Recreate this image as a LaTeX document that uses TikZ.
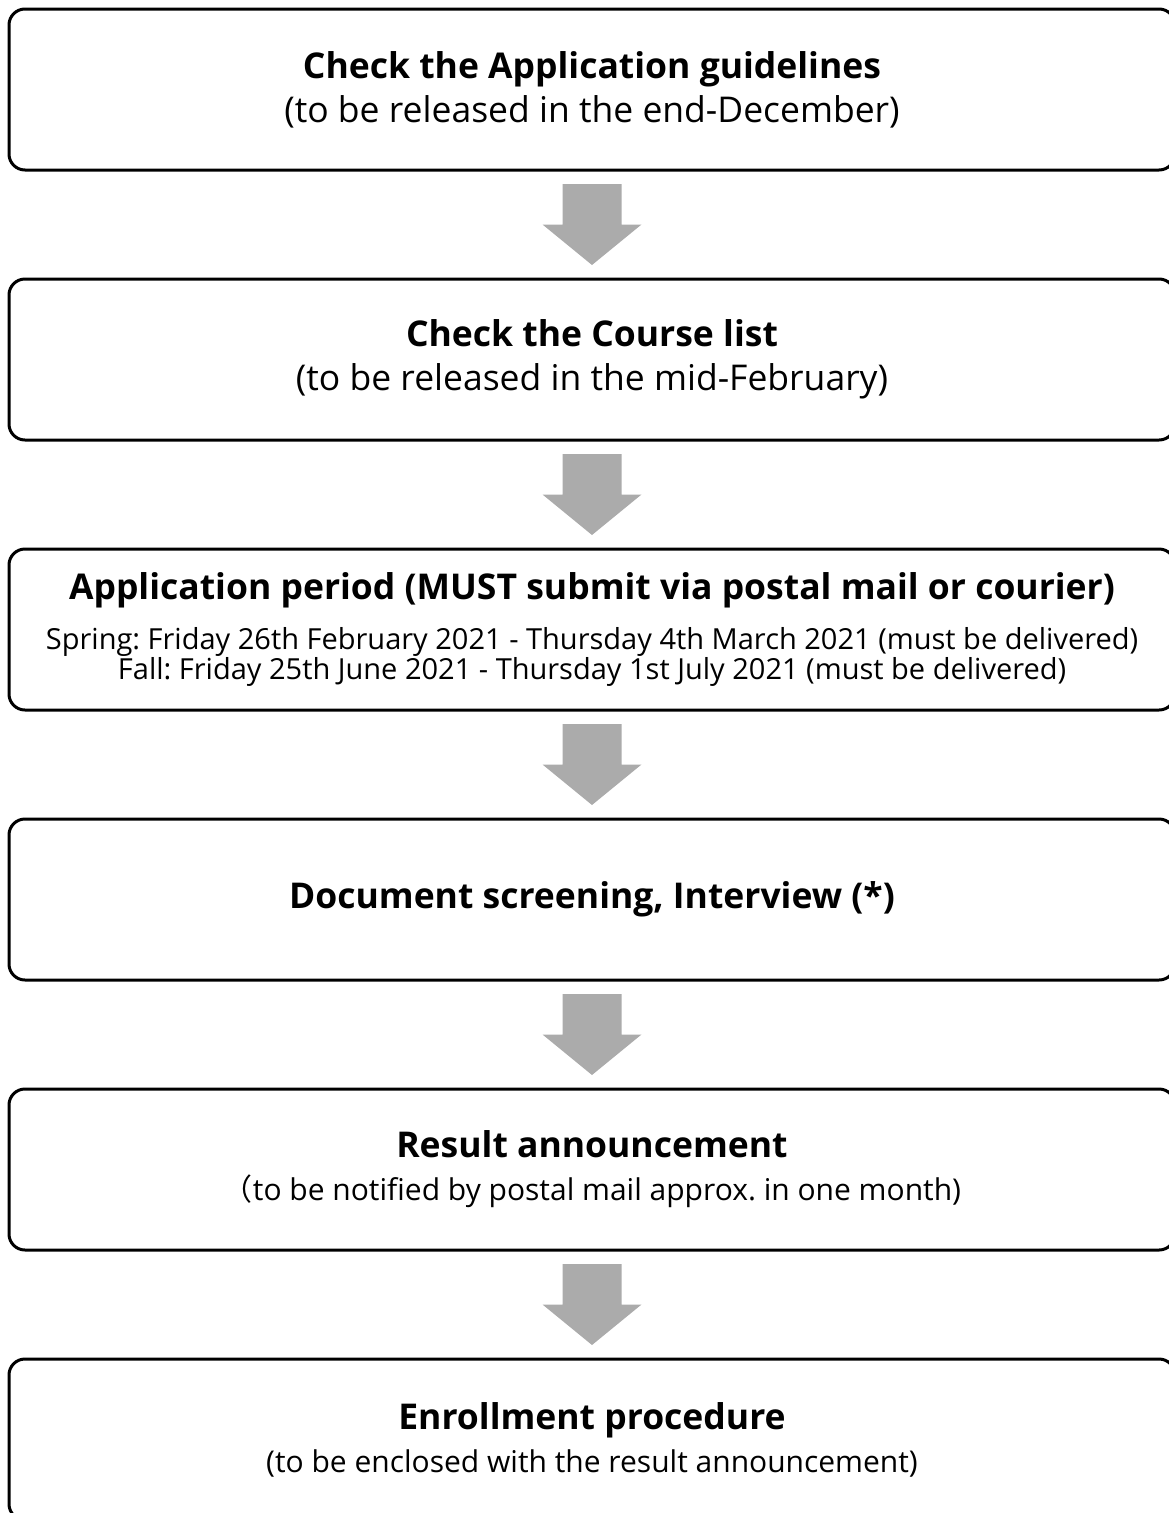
\documentclass[tikz,border=0pt]{standalone}
\usepackage{fontspec}
\setmainfont{Open Sans}
\newfontfamily\cjkfont{Noto Sans CJK JP}
\usetikzlibrary{calc}
\frenchspacing

\newcommand\stepttl{\fontsize{35.5}{44}\selectfont\bfseries}
\newcommand\stepbig{\fontsize{35.5}{44}\selectfont}
\newcommand\stepdate{\fontsize{29}{30}\selectfont}
\newcommand\stepsmall{\fontsize{30}{30}\selectfont}

\begin{document}
\begin{tikzpicture}[x=1pt, y=1pt,
  stepbox/.style={draw=black, line width=3pt, rounded corners=16pt, fill=white,
    minimum width=1166pt, minimum height=161pt, align=center, inner sep=0pt,
    font=\fontsize{30}{44}\selectfont},
  blockarrow/.style={fill=black!33}]
  \useasboundingbox (0,0) rectangle (1169,-1513);

  % Steps
  \node[stepbox] (b1) at (592,-89.5) {{\stepttl Check the Application guidelines}\\
    {\stepbig (to be released in the end-December)}};
  \node[stepbox] (b2) at (592,-359.5) {{\stepttl Check the Course list}\\
    {\stepbig (to be released in the mid-February)}};
  \node[stepbox] (b3) at (592,-629.5) {{\stepttl Application period (MUST submit via postal mail or courier)}\\[6pt]
    {\stepdate Spring: Friday 26th February 2021 - Thursday 4th March 2021 (must be delivered)}\\[-14pt]
    {\stepdate Fall: Friday 25th June 2021 - Thursday 1st July 2021 (must be delivered)}};
  \node[stepbox] (b4) at (592,-899.5) {{\stepttl Document screening, Interview (*)}};
  \node[stepbox] (b5) at (592,-1169.5) {{\stepttl Result announcement}\\[-1pt]
    {\stepsmall{\cjkfont （}to be notified by postal mail approx. in one month)}};
  \node[stepbox] (b6) at (592,-1439.5) {{\stepttl Enrollment procedure}\\[-1pt]
    {\stepsmall (to be enclosed with the result announcement)}};

  % Arrows between steps
  \foreach \a/\b in {b1/b2, b2/b3, b3/b4, b4/b5, b5/b6}
    \fill[blockarrow] ($(\a.south)!0.5!(\b.north)$) ++(-29.5,40.5) -- ++(59,0) -- ++(0,-40.5)
      -- ++(20,0) -- ++(-49.5,-40.5) -- ++(-49.5,40.5) -- ++(20,0) -- cycle;
\end{tikzpicture}
\end{document}
